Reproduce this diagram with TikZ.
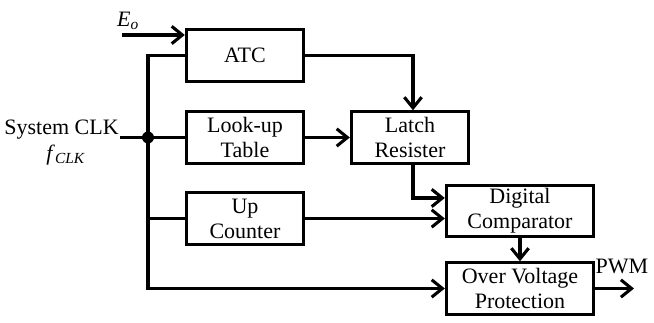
\documentclass[tikz,border=0pt]{standalone}
\usepackage{fontspec}
\setmainfont{Liberation Serif}
\usepackage{tikz}
\usetikzlibrary{arrows.meta,calc}

\begin{document}
\begin{tikzpicture}[
  x=0.75pt, y=-0.75pt,
  font=\fontsize{16.5pt}{18.8pt}\selectfont,
  blk/.style={draw, line width=2.3pt, align=center, inner sep=1pt, minimum width=88pt, minimum height=38.5pt},
  wblk/.style={blk, minimum width=110.5pt},
  wire/.style={line width=2.3pt},
  arr/.style={wire, -{Straight Barb[length=8pt, width=13pt, line width=2.3pt]}}
]
\useasboundingbox (0,0) rectangle (654,323);
% ---------------- blocks
\node[blk] (atc) at (245,55.5) {ATC};
\node[blk] (lut) at (245,137.5) {Look-up\\Table};
\node[blk] (cnt) at (245,218.5) {Up\\Counter};
\node[blk] (latch) at (410,137.5) {Latch\\Resister};
\node[wblk] (cmp) at (520,211) {Digital\\Comparator};
\node[wblk] (ovp) at (520,288.5) {Over Voltage\\Protection};
% ---------------- inputs and outputs
\coordinate (eo) at (122,35);
\coordinate (clk) at (120,137.5);
\coordinate (jn) at (148,137.5);
\coordinate (pwm) at (634,288.5);
\node (eolab) at (128,21) {\textit{E}\textsubscript{\textit{o}}};
\node[anchor=east, inner sep=0pt] (clklab) at (119,130) {System CLK};
\node (flab) at (66,155) {\textit{f}\textsubscript{\textit{CLK}}};
\node (pwmlab) at (622,266) {PWM};
% ---------------- wires
\draw[arr] (eo) -- (eo -| atc.west);
\draw[wire] (clk) -- (lut.west);
\draw[arr] (atc.west) -| (jn) |- (ovp.west);
\draw[wire] (jn) |- (cnt.west);
\fill (jn) circle (6);
\draw[arr] (atc.east) -| ($(latch.north)+(3,0)$);
\draw[arr] (lut) -- (latch);
\draw[arr] ($(latch.south)+(3,0)$) |- ($(cmp.west)+(0,-13)$);
\draw[arr] (cnt.east) -- (cnt.east -| cmp.west);
\draw[arr] (cmp) -- (ovp);
\draw[arr] (ovp.east) -- (pwm);
\end{tikzpicture}
\end{document}
